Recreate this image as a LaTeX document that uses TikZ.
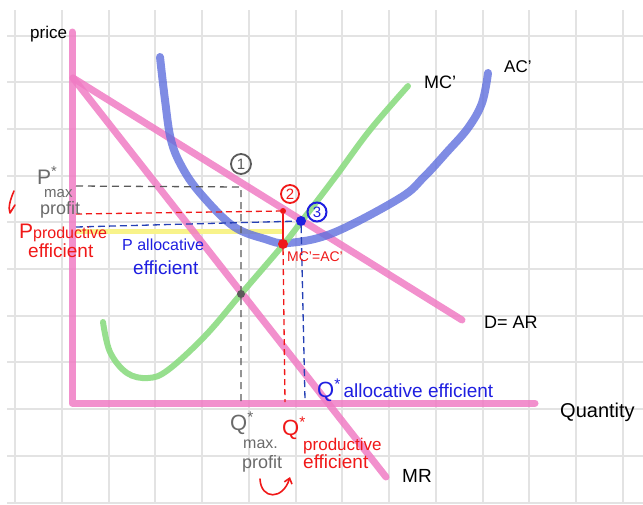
\documentclass[tikz,border=0pt]{standalone}
\usepackage{fontspec}
\setmainfont{Liberation Sans}
\usepackage{xcolor}
\usepackage{tikz}
\usetikzlibrary{arrows.meta}
\definecolor{curvepink}{HTML}{F07CC4}
\definecolor{curveblue}{HTML}{5F6FDD}
\definecolor{curvegreen}{HTML}{8CDC82}
\definecolor{inkgray}{HTML}{6A6A6A}
\definecolor{dashgray}{HTML}{5A5A5A}
\definecolor{inkred}{HTML}{F01818}
\definecolor{inkblue}{HTML}{1E1EE0}
\definecolor{dashblue}{HTML}{2540B5}
\definecolor{hilite}{HTML}{F8F38A}
\definecolor{gridgray}{HTML}{E3E3E3}
\newcommand{\fsz}[1]{\fontsize{#1}{#1}\selectfont}
\tikzset{
  gridline/.style={draw=gridgray, line width=2pt},
  pinkline/.style={draw=curvepink, line width=7pt, line cap=round,
                   line join=round, opacity=0.85},
  blueline/.style={draw=curveblue, line width=8pt, line cap=round, opacity=0.8},
  greenline/.style={draw=curvegreen, line width=6pt, line cap=round, opacity=0.9},
  graydash/.style={draw=dashgray, line width=1.3pt, dash pattern=on 7pt off 5pt},
  reddash/.style={draw=inkred, line width=1.3pt, dash pattern=on 6pt off 4pt},
  bluedash/.style={draw=dashblue, line width=1.3pt, dash pattern=on 7pt off 4pt},
  hiliteband/.style={draw=hilite, line width=5pt},
  dotmark/.style={circle, inner sep=0pt, minimum size=#1},
  numcirc/.style={circle, line width=1.8pt, inner sep=0pt,
                  minimum size=20pt, font=\fsz{15}},
  blackink/.style={text=black, inner sep=0pt, anchor=base west},
  grayink/.style={text=inkgray, inner sep=0pt, anchor=base west},
  redink/.style={text=inkred, inner sep=0pt, anchor=base west},
  blueink/.style={text=inkblue, inner sep=0pt, anchor=base west},
  redstroke/.style={draw=inkred, line width=1.6pt, line cap=round, line join=round},
  curvearr/.style={redstroke, -{Straight Barb[length=5pt, width=8pt]}},
}
\begin{document}
\begin{tikzpicture}[x=1pt, y=-1pt]

  \useasboundingbox (0,0) rectangle (643,504);

  \foreach \gx in {0,...,13}
    \draw[gridline] ({15+46.77*\gx},10) -- ({15+46.77*\gx},504);
  \foreach \gy in {0,...,10}
    \draw[gridline] (7,{35.5+46.7*\gy}) -- (643,{35.5+46.7*\gy});

  \coordinate (ytop)   at (72,32);
  \coordinate (origin) at (72,403);
  \coordinate (xend)   at (535,403);
  \coordinate (dtop)   at (73,78);
  \coordinate (dend)   at (462,320);
  \coordinate (mrend)  at (386,477);

  \coordinate (pmax)   at (76,186);
  \coordinate (dmax)   at (241,187);
  \coordinate (qmax)   at (241,403);
  \coordinate (pprod)  at (76,214);
  \coordinate (qprod)  at (285,402);
  \coordinate (palloc) at (76,227);
  \coordinate (qalloc) at (305,400);
  \coordinate (hlA)    at (76,231);
  \coordinate (hlB)    at (283,231);

  \draw[hiliteband] (hlA) -- (hlB);

  \draw[pinkline] (ytop) -- (origin) -- (xend);
  \draw[pinkline] (dtop) -- (dend);
  \draw[pinkline] (dtop) -- (mrend);

  \draw[blueline] plot[smooth, tension=0.6] coordinates {(160,57) (165,100)
    (171,140) (182,167) (200,193) (233,226) (265,239) (288,243) (333,233)
    (400,198) (424,177) (447,152) (468,128) (482,103) (488,73)};

  \draw[greenline] plot[smooth, tension=0.6] coordinates {(103,322) (110,352)
    (127,373) (148,378) (168,370) (205,336) (241,294) (283,245) (301,222)
    (336,176) (370,130) (408,86)};

  \node[dotmark=8pt, fill=dashgray] (mrmc)  at (241,294) {};
  \node[dotmark=10pt, fill=inkred]  (acmin) at (283,244) {};
  \node[dotmark=6pt, fill=inkred]   (dprod) at (283,211) {};
  \node[dotmark=10pt, fill=inkblue] (dmc)   at (301,221) {};

  \draw[graydash] (pmax) -- (dmax) -- (qmax);
  \draw[reddash] (pprod) -- (dprod);
  \draw[redstroke] (dprod) -- (acmin);
  \draw[reddash] (acmin) -- (qprod);
  \draw[bluedash] (palloc) -- (dmc);
  \draw[bluedash] (dmc) -- (qalloc);

  \node[numcirc, draw=dashgray, text=dashgray] (num1) at (241,164) {1};
  \node[numcirc, draw=inkred, text=inkred, minimum size=18pt] (num2) at (290,194) {2};
  \node[numcirc, draw=inkblue, text=inkblue, line width=2pt, minimum size=19pt] (num3) at (317,212) {3};

  \node[blackink, font=\fsz{17}] (pricelbl) at (30,38) {price};
  \node[blackink, font=\fsz{20}] (qtylbl) at (560,417) {Quantity};
  \node[blackink, font=\fsz{18}] (mclbl) at (424,88) {MC’};
  \node[blackink, font=\fsz{17}] (aclbl) at (504,72) {AC’};
  \node[blackink, font=\fsz{18}] (arlbl) at (484,328) {D= AR};
  \node[blackink, font=\fsz{19}] (mrlbl) at (402,482) {MR};

  \node[grayink, font=\fsz{21}] (pmaxlbl) at (37,184) {P\textsuperscript{*}};
  \node[grayink, font=\fsz{15}] (pmaxa) at (44,197) {max};
  \node[grayink, font=\fsz{18}] (pmaxb) at (40,214) {profit};

  \node[redink] (pprodlbl) at (19,238) {{\fsz{21}P}{\fsz{16}productive}};
  \node[redink, font=\fsz{19}] (pprodb) at (28,257) {efficient};

  \node[blueink, font=\fsz{16}] (palloclbl) at (122,250) {P allocative};
  \node[blueink, font=\fsz{19}] (pallocb) at (133,274) {efficient};

  \node[redink, font=\fsz{14}] (mcaclbl) at (287,261) {MC’=AC’};

  \node[blueink] (qalloclbl) at (317,397) {{\fsz{22}Q\textsuperscript{*}} {\fsz{19}allocative efficient}};

  \node[grayink, font=\fsz{22}] (qmaxlbl) at (230,430) {Q\textsuperscript{*}};
  \node[grayink, font=\fsz{16}] (qmaxa) at (243,448) {max.};
  \node[grayink, font=\fsz{18}] (qmaxb) at (242,468) {profit};

  \node[redink, font=\fsz{22}] (qprodlbl) at (282,435) {Q\textsuperscript{*}};
  \node[redink, font=\fsz{17}] (qproda) at (303,450) {productive};
  \node[redink, font=\fsz{19}] (qprodb) at (303,468) {efficient};

  \draw[redstroke] (14,191) .. controls (10,200) and (8,208) .. (10,213) -- (15,205);

  \coordinate (arrA) at (260,479);
  \coordinate (arrB) at (290,477);
  \draw[curvearr] (arrA) .. controls (261,500) and (283,500) .. (arrB);

\end{tikzpicture}
\end{document}
